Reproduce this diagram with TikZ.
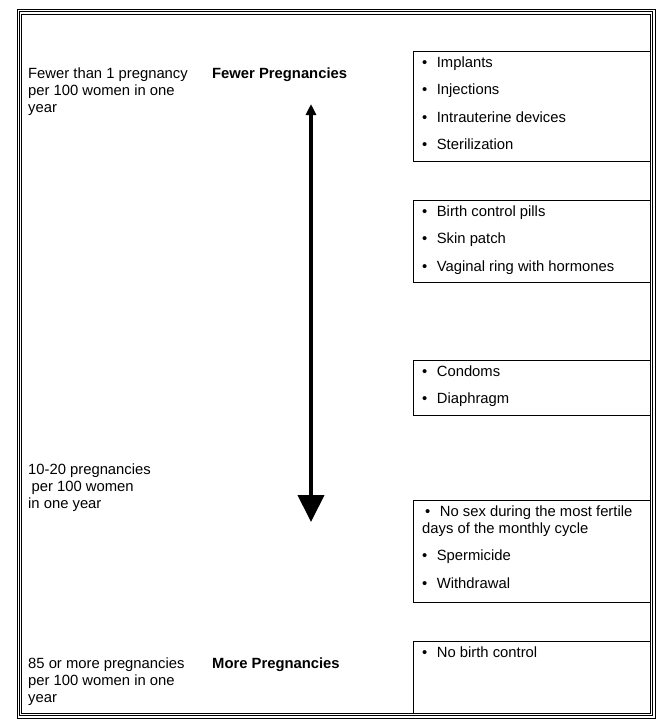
\documentclass[tikz,border=0pt]{standalone}
\usepackage{fontspec}
\setmainfont{Liberation Sans}
\usetikzlibrary{arrows.meta}
\newcommand{\bul}{\textbullet\hspace{9.5pt}}
\begin{document}
\begin{tikzpicture}[
  x=1pt, y=-1pt,
  frame_line/.style={line width=0.9pt},
  rate/.style={anchor=base west, align=left, inner sep=0pt, font=\fontsize{14.8}{17}\selectfont},
  level/.style={anchor=base west, inner sep=0pt, font=\fontsize{14.8}{17}\selectfont\bfseries},
  methods/.style={draw, line width=0.9pt, anchor=north west, minimum width=237pt, minimum height=#1, inner sep=0pt},
  items/.style={anchor=base west, align=left, inner sep=0pt, font=\fontsize{14.8}{17}\selectfont},
]
\useasboundingbox (0,0) rectangle (661,724);
% triple frame
\draw[frame_line] (17,9) rectangle (655,718);
\draw[frame_line] (19,11.5) rectangle (652.5,715.5);
\draw[frame_line] (21,14) rectangle (650,713);
% effectiveness scale (anchored at the last line)
\node[rate] (r1) at (28,112) {Fewer than 1 pregnancy\\per 100 women in one\\year};
\node[rate] (r2) at (28,508) {10-20 pregnancies\\\hspace{3.5pt}per 100 women\\in one year};
\node[rate] (r3) at (28,702) {85 or more pregnancies\\per 100 women in one\\year};
\node[level] (fewer) at (212,78) {Fewer Pregnancies};
\node[level] (more) at (212,668) {More Pregnancies};
\coordinate (up) at (311,104);
\coordinate (down) at (311,522);
\draw[line width=4pt, {Triangle[length=11pt,width=10pt]}-{Triangle[length=27pt,width=26pt]}] (up) -- (down);
% method boxes
\node[methods=110pt] (b1) at (413,51) {};
\node[methods=82pt] (b2) at (413,200) {};
\node[methods=55pt] (b3) at (413,360) {};
\node[methods=102pt] (b4) at (413,500) {};
\node[methods=72pt] (b5) at (413,641) {};
\node[items] (i1) at (422,149.4) {\bul Implants\\[10.3pt]\bul Injections\\[10.3pt]\bul Intrauterine devices\\[10.3pt]\bul Sterilization};
\node[items] (i2) at (422,271.1) {\bul Birth control pills\\[10.3pt]\bul Skin patch\\[10.3pt]\bul Vaginal ring with hormones};
\node[items] (i3) at (422,403.8) {\bul Condoms\\[10.3pt]\bul Diaphragm};
\node[items] (i4) at (422,588.1) {\hspace{3pt}\bul No sex during the most fertile\\days of the monthly cycle\\[10.3pt]\bul Spermicide\\[10.3pt]\bul Withdrawal};
\node[items] (i5) at (422,657.5) {\bul No birth control};
\end{tikzpicture}
\end{document}
